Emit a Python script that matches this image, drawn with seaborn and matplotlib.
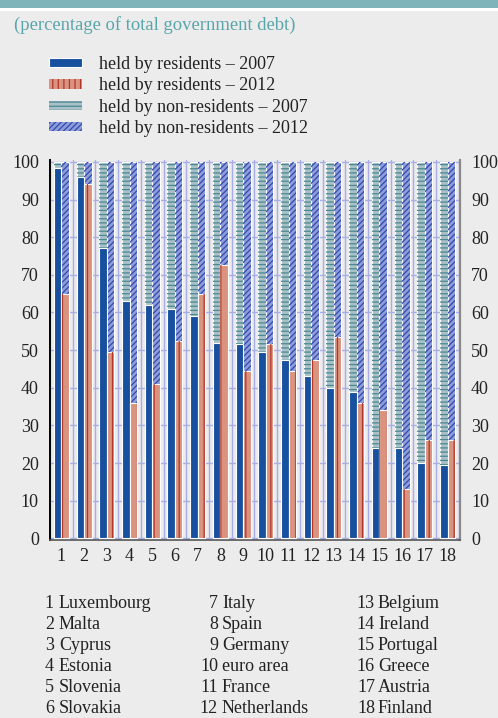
import pandas as pd
import numpy as np
import matplotlib.pyplot as plt
import seaborn as sns
from matplotlib.patches import Patch, Rectangle

# ---------------------------------
# data (percentage of total government debt)
# ---------------------------------
codes = [str(i) for i in range(1, 19)]
countries = ["Luxembourg", "Malta", "Cyprus", "Estonia", "Slovenia", "Slovakia",
             "Italy", "Spain", "Germany", "euro area", "France", "Netherlands",
             "Belgium", "Ireland", "Portugal", "Greece", "Austria", "Finland"]
res_2007 = [98.5, 96, 77, 63, 62, 61, 59, 52, 51.5, 49.5, 47.5, 43, 40, 39, 24, 24, 20, 19.5]
res_2012 = [65, 94, 49.5, 36, 41, 52.5, 65, 72.5, 44.5, 51.5, 44.5, 47.5, 53.5, 36, 34, 13, 26, 26]
nonres_2007 = [1.5, 4, 23, 37, 38, 39, 41, 48, 48.5, 50.5, 52.5, 57, 60, 61, 76, 76, 80, 80.5]
nonres_2012 = [35, 6, 50.5, 64, 59, 47.5, 35, 27.5, 55.5, 48.5, 55.5, 52.5, 46.5, 64, 66, 87, 74, 74]
years = ["2007", "2012"]
legend_labels = ["held by residents \u2013 2007", "held by residents \u2013 2012",
                 "held by non-residents \u2013 2007", "held by non-residents \u2013 2012"]

# colours / hatches
BG = "#ececec"
BLUE = "#17509e"
SALMON, SALMON_H = "#d9937f", "#b0372a"
TEAL, TEAL_H = "#a9c1c6", "#4a8893"
PERI, PERI_H = "#8d9dd9", "#3349ad"
GRID = "#a7aee6"
TXT = "#222222"
FS = 13

df = pd.DataFrame({
    "code": codes * 2,
    "year": ["2007"] * 18 + ["2012"] * 18,
    "residents": res_2007 + res_2012,
    "nonresidents": nonres_2007 + nonres_2012,
})
df["total"] = df["residents"] + df["nonresidents"]

sns.set_theme(style="white")
plt.rcParams["font.family"] = ["Liberation Serif", "DejaVu Serif"]
plt.rcParams["hatch.linewidth"] = 0.9

fig = plt.figure(figsize=(4.98, 7.18), dpi=100, facecolor=BG)
ax = fig.add_axes([50 / 498, 1 - 540 / 718, 410 / 498, 380 / 718])
ax.set_facecolor(BG)

# non-residents (full stack height), then residents on top
sns.barplot(data=df, x="code", y="total", hue="year", order=codes, hue_order=years,
            palette={"2007": TEAL, "2012": PERI}, saturation=1, width=0.66,
            edgecolor="white", linewidth=0.8, legend=False, zorder=2, ax=ax)
sns.barplot(data=df, x="code", y="residents", hue="year", order=codes, hue_order=years,
            palette={"2007": BLUE, "2012": SALMON}, saturation=1, width=0.66,
            edgecolor="white", linewidth=0.8, legend=False, zorder=4, ax=ax)

# hatch overlays
styles = [("----", TEAL_H, 3), ("//////", PERI_H, 3), (None, None, 5), ("||", SALMON_H, 5)]
for cont, (hatch, hcol, z) in zip(ax.containers, styles):
    if hatch is None:
        continue
    for p in cont.patches:
        ax.add_patch(Rectangle(p.get_xy(), p.get_width(), p.get_height(), fill=False,
                               hatch=hatch, edgecolor=hcol, lw=0, zorder=z))

# axes styling
ax.set_xlim(-0.42, 17.55)
ax.set_ylim(-0.45, 100.5)
ax.set_yticks(range(0, 101, 10))
ax.set_xticks(np.arange(-0.5, 18, 1), minor=True)
ax.set_xlabel("")
ax.set_ylabel("")
ax.set_axisbelow(True)
ax.grid(axis="y", which="major", color=GRID, lw=1)
ax.grid(axis="x", which="minor", color=GRID, lw=1)
ax.grid(axis="x", which="major", visible=False)
ax.tick_params(axis="y", length=0, pad=8, labelsize=FS, labelcolor=TXT,
               labelleft=True, labelright=True)
ax.tick_params(axis="x", which="major", length=0, pad=6, labelsize=FS, labelcolor=TXT)
ax.tick_params(axis="x", which="minor", length=4, width=1.2, color="#555555", direction="out")
ax.spines["top"].set_visible(False)
ax.spines["left"].set_color("black")
ax.spines["left"].set_linewidth(1.4)
ax.spines["right"].set_color("#8a8a8a")
ax.spines["right"].set_linewidth(1.6)
ax.spines["bottom"].set_color("#555555")
ax.spines["bottom"].set_linewidth(1.2)

# header band and subtitle
fig.add_artist(Rectangle((0, 1 - 8 / 718), 1, 8 / 718, transform=fig.transFigure,
                         color="#80b4bb", lw=0))
fig.add_artist(Rectangle((0, 1 - 11 / 718), 1, 3 / 718, transform=fig.transFigure,
                         color="white", lw=0))
fig.text(14 / 498, 1 - 25 / 718, "(percentage of total government debt)",
         color="#5aa5aa", fontsize=13.4, va="center", ha="left")

# legend
handles = [
    Patch(facecolor=BLUE, edgecolor="white", lw=0.8),
    Patch(facecolor=SALMON, edgecolor=SALMON_H, hatch="|||", lw=0),
    Patch(facecolor=TEAL, edgecolor=TEAL_H, hatch="----", lw=0),
    Patch(facecolor=PERI, edgecolor=PERI_H, hatch="//////", lw=0),
]
fig.legend(handles, legend_labels, loc="upper left", bbox_to_anchor=(49 / 498, 1 - 56 / 718),
           frameon=False, fontsize=FS, handlelength=1.85, handleheight=0.42,
           handletextpad=0.9, labelspacing=0.24, borderpad=0, borderaxespad=0,
           labelcolor=TXT)

# country key below the chart
num_right = [54, 218, 375]
name_left = [59, 222, 378]
for i, name in enumerate(countries):
    col, row = divmod(i, 6)
    y = 1 - (603.5 + row * 21) / 718
    fig.text(num_right[col] / 498, y, codes[i], ha="right", va="center",
             fontsize=FS, color=TXT)
    fig.text(name_left[col] / 498, y, name, ha="left", va="center",
             fontsize=FS, color=TXT)

fig.savefig("out.png", dpi=100, facecolor=BG)
